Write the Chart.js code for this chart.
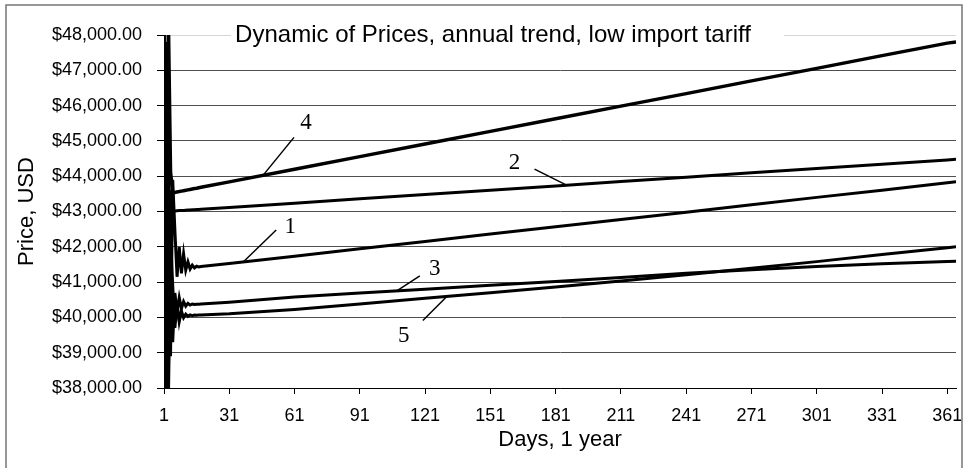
<!DOCTYPE html>
<html>
<head>
<meta charset="utf-8">
<script src="https://cdn.jsdelivr.net/npm/chart.js@4/dist/chart.umd.min.js"></script>
<style>
html,body{margin:0;padding:0;background:#fff;}
#wrap{width:965px;height:468px;position:relative;}
</style>
</head>
<body>
<div id="wrap"><canvas id="c" width="965" height="468"></canvas></div>
<script>
// ---- data ----
const days = [1,2,3,4,5,6,7,8,9,10,11,12,13,14,15,16,17,18,31,61,91,121,151,181,211,241,271,301,331,361,365];
const series1 = [48600,37400,46000,38900,43900,42470,41150,41990,41250,41800,41340,41570,41370,41480,41400,41450,41430,41440,41527,41735,41943,42150,42360,42566,42775,42980,43190,43400,43605,43812,43840];
const series2 = [38500,47800,40800,43600,43010,43015,43020,43025,43030,43030,43035,43040,43045,43050,43050,43055,43060,43065,43115,43235,43360,43480,43605,43725,43850,43970,44095,44215,44340,44460,44480];
const series3 = [36800,47200,37600,41800,39300,40690,40150,40560,40250,40450,40320,40400,40350,40380,40365,40375,40370,40380,40430,40580,40690,40800,40910,41020,41130,41250,41350,41440,41520,41585,41590];
const series4 = [49000,37000,48500,44120,43530,43540,43555,43565,43577,43590,43600,43613,43625,43637,43650,43660,43672,43685,43840,44195,44555,44910,45270,45625,45985,46340,46700,47055,47415,47770,47800];
const series5 = [37200,46500,38400,42300,40900,39700,40420,39880,40180,39990,40090,40030,40070,40050,40065,40060,40068,40070,40100,40225,40380,40540,40700,40860,41030,41210,41390,41580,41780,41975,42000];
const seriesNames = ['1','2','3','4','5'];
const xTicks = [1,31,61,91,121,151,181,211,241,271,301,331,361];
const yTicks = [38000,39000,40000,41000,42000,43000,44000,45000,46000,47000,48000];
const titleText = 'Dynamic of Prices, annual trend, low import tariff';
const xTitle = 'Days, 1 year';
const yTitle = 'Price, USD';

const allSeries = [series1, series2, series3, series4, series5];

// label callouts: which series, at which day the leader touches the line, and pixel offsets
const callouts = [
  {name: '1', s: 0, day: 37.4, lead: [33, -32], txt: [47, -35]},
  {name: '2', s: 1, day: 186,  lead: [-32, -16], txt: [-52, -22]},
  {name: '3', s: 2, day: 108,  lead: [23, -15], txt: [38, -22]},
  {name: '4', s: 3, day: 46.5, lead: [31, -38], txt: [43, -52]},
  {name: '5', s: 4, day: 131,  lead: [-24, 24], txt: [-43, 39]}
];

function valueAt(arr, day) {
  for (let i = 0; i < days.length - 1; i++) {
    if (day >= days[i] && day <= days[i+1]) {
      const t = (day - days[i]) / (days[i+1] - days[i]);
      return arr[i] + t * (arr[i+1] - arr[i]);
    }
  }
  return arr[arr.length - 1];
}

const FONT = 'Liberation Sans';

const frame = {
  id: 'frame',
  afterDraw(chart) {
    const ctx = chart.ctx;
    ctx.save();
    ctx.strokeStyle = '#767676';
    ctx.lineWidth = 1.5;
    ctx.strokeRect(6, 5, 956, 470);
    ctx.restore();
  }
};

const topGrid = {
  id: 'topGrid',
  beforeDatasetsDraw(chart) {
    const ctx = chart.ctx, a = chart.chartArea;
    const tb = chart.titleBlock;
    ctx.save();
    ctx.font = 'normal 24px "' + FONT + '"';
    const w = ctx.measureText(titleText).width;
    const cx = (tb.left + tb.right) / 2;
    const y = Math.round(chart.scales.y.getPixelForValue(48000)) + 0.5;
    ctx.strokeStyle = '#d6d6d6';
    ctx.lineWidth = 1;
    ctx.beginPath();
    ctx.moveTo(a.left, y); ctx.lineTo(cx - w / 2 - 4, y);
    ctx.moveTo(cx + w / 2 + 33, y); ctx.lineTo(a.right, y);
    ctx.stroke();
    ctx.restore();
  }
};

const callout = {
  id: 'callout',
  afterDatasetsDraw(chart) {
    const ctx = chart.ctx, xs = chart.scales.x, ys = chart.scales.y;
    ctx.save();
    ctx.strokeStyle = '#000';
    ctx.lineWidth = 1.5;
    ctx.fillStyle = '#000';
    ctx.font = '23px "Liberation Serif"';
    ctx.textAlign = 'center';
    ctx.textBaseline = 'middle';
    callouts.forEach(c => {
      const px = xs.getPixelForValue(c.day);
      const py = ys.getPixelForValue(valueAt(allSeries[c.s], c.day));
      ctx.beginPath();
      ctx.moveTo(px, py);
      ctx.lineTo(px + c.lead[0], py + c.lead[1]);
      ctx.stroke();
      ctx.fillText(c.name, px + c.txt[0], py + c.txt[1]);
    });
    ctx.restore();
  }
};

const datasets = allSeries.map((vals, i) => ({
  label: seriesNames[i],
  data: days.map((d, k) => ({x: d, y: vals[k]})),
  borderColor: '#000',
  backgroundColor: '#000',
  borderWidth: i === 3 ? 3.5 : 3,
  pointRadius: 0,
  tension: 0,
  fill: false
}));

new Chart(document.getElementById('c'), {
  type: 'line',
  data: {datasets},
  options: {
    responsive: false,
    animation: false,
    devicePixelRatio: 1,
    layout: {padding: {left: 30, right: 9, top: 0, bottom: 0}},
    plugins: {
      legend: {display: false},
      tooltip: {enabled: false},
      title: {
        display: true,
        text: titleText,
        color: '#000',
        font: {family: FONT, size: 24, weight: 'normal'},
        padding: {top: 20.7, bottom: -14.5}
      }
    },
    scales: {
      x: {
        type: 'linear',
        min: 1,
        max: 365,
        afterBuildTicks: s => { s.ticks = xTicks.map(v => ({value: v})); },
        afterFit: s => { s.height = 80; s.paddingLeft = 0; s.paddingRight = 0; },
        ticks: {
          autoSkip: false, maxRotation: 0, color: '#000', padding: 11,
          font: {family: FONT, size: 18},
          callback: v => String(v)
        },
        grid: {drawOnChartArea: false, tickLength: 6, tickColor: '#000', lineWidth: 1},
        border: {color: '#000', width: 1},
        title: {display: true, text: xTitle, color: '#000', font: {family: FONT, size: 22}, padding: {top: 0, bottom: 14.8}}
      },
      y: {
        min: 38000,
        max: 48000,
        afterBuildTicks: s => { s.ticks = yTicks.map(v => ({value: v})); },
        afterFit: s => { s.width = 134; },
        ticks: {
          color: '#000', padding: 15,
          font: {family: FONT, size: 18},
          callback: v => '$' + Number(v).toLocaleString('en-US', {minimumFractionDigits: 2, maximumFractionDigits: 2})
        },
        grid: {
          color: ctx => (ctx.tick && ctx.tick.value === 48000) ? 'rgba(0,0,0,0)' : '#505050',
          tickColor: '#000', tickLength: 7, lineWidth: 1
        },
        border: {color: '#000', width: 1},
        title: {display: true, text: yTitle, color: '#000', font: {family: FONT, size: 22}, padding: {top: -16.6, bottom: 0}}
      }
    }
  },
  plugins: [topGrid, callout, frame]
});
</script>
</body>
</html>
